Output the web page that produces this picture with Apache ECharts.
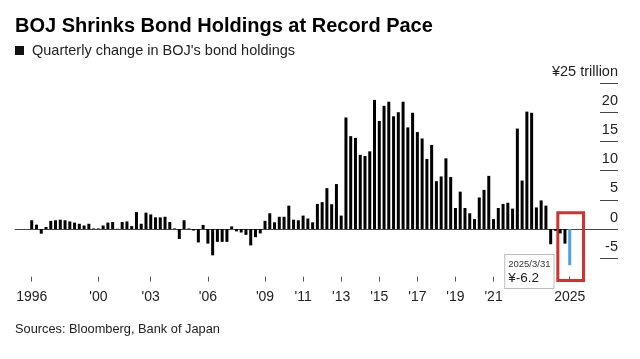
<!DOCTYPE html>
<html>
<head>
<meta charset="utf-8">
<script src="https://cdn.jsdelivr.net/npm/echarts@6/dist/echarts.min.js"></script>
<style>
html,body{margin:0;padding:0;background:#fff;}
#chart{width:640px;height:359px;}
</style>
</head>
<body>
<div id="chart"></div>
<script>
// Quarterly change in BOJ bond holdings (¥ trillion), 1996 Q4 .. 2025 Q1
const values = [
  1.5, 0.75, -0.8, 0.35, 1.4, 1.5, 1.6, 1.5, 1.3, 1.1, 0.9, 0.6, 0.9, 0.1, 0.1, 0.6, 1.1, 1.2, 0.05, 1.2, 1.3, 0.5,
  2.9, 0.9, 2.8, 2.5, 2.0, 2.0, 2.1, 1.2, 0.1, -1.7, 1.5, 0.1, -0.25, -2.3, 0.7, -2.5, -4.5, -2.2, -2.2, -2.2, 0.45, -0.4, -0.6, -1.0,
  -2.8, -1.4, -0.75, 1.4, 2.7, 1.15, 2.1, 2.1, 4.0, 1.6, 1.5, 2.3, 1.8, 1.15, 4.3, 4.6, 7.0, 4.25, 7.7, 2.3, 19.1, 15.9, 15.6,
  12.7, 12.5, 13.3, 22.1, 18.5, 21.1, 21.8, 19.3, 20.0, 21.8, 17.4, 19.9, 16.6, 15.5, 12.0, 14.4, 8.2, 9.0, 12.1, 8.9, 3.6, 6.4, 3.6, 2.7, 1.7,
  5.4, 6.7, 9.1, 1.7, 3.6, 4.3, 4.5, 3.5, 17.2, 8.3, 20.1, 19.9, 3.7, 4.9, 4.0, -2.6, -0.3, -0.75, -2.5, -6.2
];
// quarter-end dates for each bar
const categories = [];
(function(){
  const ends = ['3/31','6/30','9/30','12/31'];
  let y = 1996, q = 3;
  for (let i = 0; i < values.length; i++) {
    categories.push(y + '/' + ends[q]);
    q++; if (q > 3) { q = 0; y++; }
  }
})();
const tickDates  = ['1996/12/31','2000/6/30','2003/3/31','2006/3/31','2009/3/31','2011/3/31','2013/3/31','2015/3/31','2017/3/31','2019/3/31','2021/3/31','2025/3/31'];
const tickLabels = ['1996',"'00","'03","'06","'09","'11","'13","'15","'17","'19","'21",'2025'];
const yTicks = [-5, 0, 5, 10, 15, 20, 25];
const highlightDate = '2025/3/31';

const FONT = "'Liberation Sans', Arial, sans-serif";
const tickIdx = tickDates.map(d => categories.indexOf(d));
const hiIdx = categories.indexOf(highlightDate);

const barData = values.map((v, i) => {
  const item = { value: [i, v] };
  if (i === hiIdx) {
    item.itemStyle = { color: '#4aa3df' };
    item.label = {
      show: true,
      position: [-63, 26],
      formatter: '{d|' + categories[i] + '}\n{v|¥' + v + '}',
      backgroundColor: '#fff',
      borderColor: '#bdbdbd',
      borderWidth: 1,
      padding: [3, 3, 2, 3],
      rich: {
        d: { fontFamily: FONT, fontSize: 9.5, color: '#333', lineHeight: 12 },
        v: { fontFamily: FONT, fontSize: 13.5, color: '#222', lineHeight: 16 }
      }
    };
  }
  return item;
});

const chart = echarts.init(document.getElementById('chart'), null, { renderer: 'canvas' });
const xMin = -3.51, xMax = 119.36, yMin = -9, yMax = 25;
chart.setOption({
  animation: false,
  backgroundColor: '#fff',
  title: [
    { text: 'BOJ Shrinks Bond Holdings at Record Pace', left: 15, top: 16, padding: 0,
      textStyle: { fontFamily: FONT, fontWeight: 'bold', fontSize: 20, color: '#000' } },
    { text: "{sq|}{t|Quarterly change in BOJ's bond holdings}", left: 15, top: 43, padding: 0,
      textStyle: { fontWeight: 'normal', rich: {
        sq: { width: 9, height: 9, backgroundColor: '#111' },
        t: { fontFamily: FONT, fontSize: 14.5, fontWeight: 'normal', color: '#222', padding: [0, 0, 0, 8] } } } },
    { text: 'Sources: Bloomberg, Bank of Japan', left: 15, top: 323, padding: 0,
      textStyle: { fontFamily: FONT, fontSize: 12.8, fontWeight: 'normal', color: '#222' } }
  ],
  grid: { left: 15, right: 40, top: 83, bottom: 77.4 },
  xAxis: [
    { type: 'value', min: xMin, max: xMax, axisLine: { show: true, onZero: true, lineStyle: { color: '#444', width: 1 } },
      axisTick: { show: false }, axisLabel: { show: false }, splitLine: { show: false } },
    { type: 'value', min: xMin, max: xMax, position: 'bottom', axisLine: { show: false, onZero: false },
      axisTick: { show: true, inside: true, length: 5, customValues: tickIdx, lineStyle: { color: '#555' } },
      axisLabel: { show: true, customValues: tickIdx, margin: 9, fontFamily: FONT, fontSize: 14, color: '#222',
        formatter: v => tickLabels[tickIdx.indexOf(Math.round(v))] || '' },
      splitLine: { show: false } }
  ],
  yAxis: {
    type: 'value', position: 'right', min: yMin, max: yMax,
    axisLine: { show: false, onZero: false },
    axisTick: { show: true, inside: false, length: 18, customValues: yTicks, lineStyle: { color: '#444', width: 1 } },
    axisLabel: { show: true, customValues: yTicks, inside: false, margin: 18, align: 'right', verticalAlign: 'bottom',
      padding: [0, 0, 4, 0], fontFamily: FONT, fontSize: 14.5, color: '#222',
      formatter: v => v === yMax ? '¥' + v + ' trillion' : String(v) },
    splitLine: { show: false }
  },
  series: [{
    type: 'bar', xAxisIndex: 0, yAxisIndex: 0, barWidth: 3,
    itemStyle: { color: '#000' },
    data: barData,
    markArea: {
      silent: true,
      itemStyle: { color: 'rgba(0,0,0,0)', borderColor: '#d0322e', borderWidth: 3 },
      data: [[{ xAxis: hiIdx - 2.5, yAxis: 2.8 }, { xAxis: hiIdx + 2.9, yAxis: -8.8 }]]
    }
  }]
});
</script>
</body>
</html>
